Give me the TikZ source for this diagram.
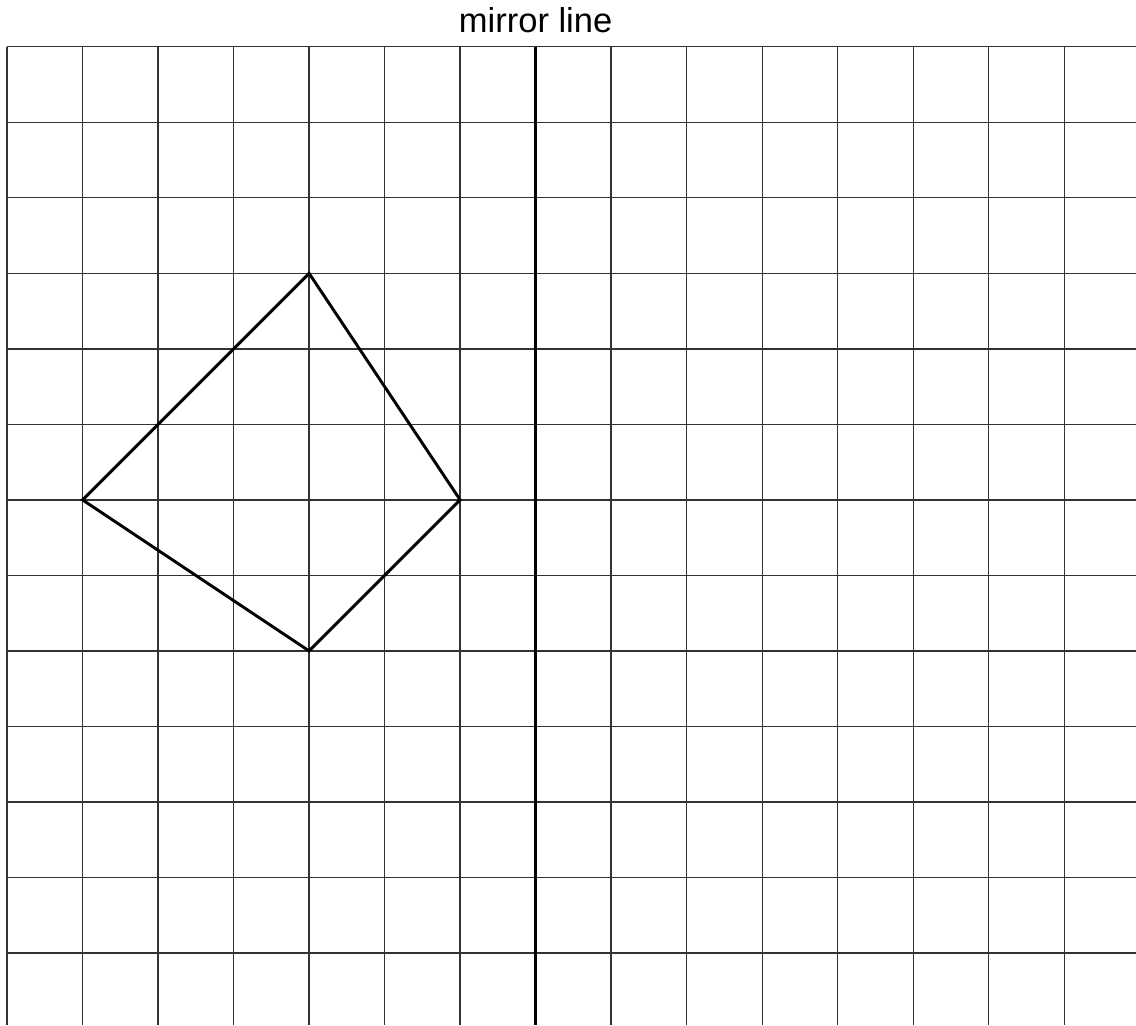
\documentclass[tikz,border=0pt]{standalone}
\usepackage{fontspec}
\setmainfont{Liberation Sans}
\begin{document}
\begin{tikzpicture}
\useasboundingbox (-0.093,0.046) rectangle (14.95,13.62);
% Grid
\draw[black!80, line width=0.5pt, step=1] (0,0.046) grid (14.95,13);

% Mirror line
\draw[line width=1.1pt] (7,0.046) -- (7,13);
\node[anchor=base, font=\fontsize{13}{15}\selectfont] (label) at (7,13.185) {mirror line};

% Shape
\coordinate (top) at (4,10);
\coordinate (right) at (6,7);
\coordinate (bottom) at (4,5);
\coordinate (left) at (1,7);
\draw[line width=1.1pt, line join=miter] (top) -- (right) -- (bottom) -- (left) -- cycle;
\end{tikzpicture}
\end{document}
